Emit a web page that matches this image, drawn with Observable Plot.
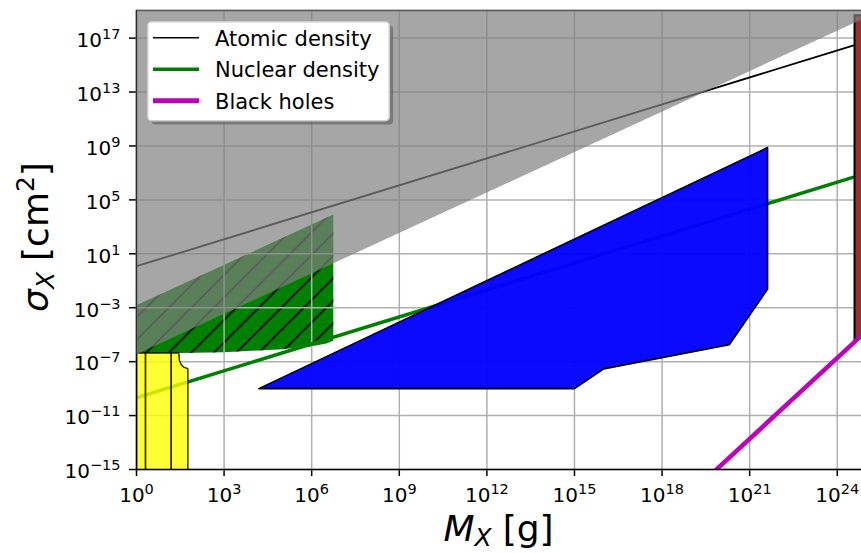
<!DOCTYPE html>
<html>
<head>
<meta charset="utf-8">
<script src="https://cdn.jsdelivr.net/npm/d3@7"></script>
<script src="https://cdn.jsdelivr.net/npm/@observablehq/plot@0.6"></script>
<style>
  html, body { margin: 0; padding: 0; background: #ffffff; }
  #chart svg { display: block; }
</style>
</head>
<body>
<div id="chart"></div>
<script>
// ---- axis ticks and domains ----
const massTicks  = [1e0, 1e3, 1e6, 1e9, 1e12, 1e15, 1e18, 1e21, 1e24];
const sigmaTicks = [1e-15, 1e-11, 1e-7, 1e-3, 1e1, 1e5, 1e9, 1e13, 1e17];
const massDomain  = [1, 6.76e24];
const sigmaDomain = [1e-15, 1.12e19];

// ---- lines ----
const atomicM    = [1, 3.9e24];
const atomicS    = [1.2, 3.0e16];
const nuclearM   = [1, 3.9e24];
const nuclearS   = [2.1e-10, 5.1e6];
const blackHoleM = [3e19, 1e25];
const blackHoleS = [1.7e-16, 1.9e-5];

// ---- regions ----
const grayM  = [1, 1e26, 1e26, 1];
const grayS  = [3.6e-7, 3.6e19, 1e30, 1e30];

const hatchM = [1, 5.5e6, 5.5e6, 3.2e6, 1e6, 1e5, 1e3, 1];
const hatchS = [1.5e-3, 8.3e3, 3.5e-6, 2.2e-6, 1.4e-6, 8.3e-7, 5.0e-7, 3.8e-7];

const yellowPart = ["a","a","a","a", "b","b","b","b", "c","c","c","c","c","c","c","c"];
const yellowM = [1, 1, 2.04, 2.04,   2.04, 2.04, 15.5, 15.5,   15.5, 15.5, 28.2, 29.5, 33.9, 41.7, 57.5, 57.5];
const yellowS = [1e-16, 4.3e-7, 4.3e-7, 1e-16,   1e-16, 4.3e-7, 4.3e-7, 1e-16,
                 1e-16, 4.3e-7, 4.3e-7, 1.23e-7, 6.2e-8, 3.9e-8, 2.95e-8, 1e-16];

const blueM = [1.55e4, 1e15, 1e16, 2.0e20, 4.1e21, 4.1e21];
const blueS = [1e-9, 1e-9, 2.9e-8, 1.8e-6, 2.4e-2, 7.6e8];

const redM = [3.9e24, 3.9e24, 1e26, 1e26];
const redS = [2.9e-6, 5e18, 5e18, 1.9e-3];

// ---- legend ----
const legendLabels = ["Atomic density", "Nuclear density", "Black holes"];
const legendColors = ["#000000", "#008000", "#bf00bf"];
const legendWidths = [1.5, 3.5, 5];

const pts = (M, S, P) => M.map((m, i) => ({m, s: S[i], p: P ? P[i] : 0}));
const expFmt = d => { const e = Math.round(Math.log10(d)); return (e < 0 ? "\u2212" : "") + Math.abs(e); };

const chart = Plot.plot({
  width: 861,
  height: 553,
  marginLeft: 136,
  marginRight: 0,
  marginTop: 10,
  marginBottom: 84,
  style: {fontFamily: "DejaVu Sans, sans-serif", fontSize: "20px", background: "#ffffff", color: "#000000", overflow: "visible"},
  x: {type: "log", domain: massDomain, ticks: massTicks, tickFormat: expFmt, tickSize: 7, tickPadding: 11, label: null},
  y: {type: "log", domain: sigmaDomain, ticks: sigmaTicks, tickFormat: expFmt, tickSize: 7, tickPadding: 9, label: null},
  marks: [
    // hatched nuclear-density region
    Plot.line(pts(hatchM, hatchS), {x: "m", y: "s", fill: "#008000", stroke: "none", curve: "linear-closed", clip: true}),
    Plot.line(pts(hatchM, hatchS), {x: "m", y: "s", fill: "url(#hatch)", stroke: "none", curve: "linear-closed", clip: true}),
    // grid
    Plot.ruleX(massTicks, {stroke: "#b0b0b0", strokeWidth: 1.5}),
    Plot.ruleY(sigmaTicks, {stroke: "#b0b0b0", strokeWidth: 1.5}),
    // density lines
    Plot.line(pts(atomicM, atomicS), {x: "m", y: "s", stroke: "#000000", strokeWidth: 1.8, clip: true}),
    Plot.line(pts(nuclearM, nuclearS), {x: "m", y: "s", stroke: "#008000", strokeWidth: 3.5, clip: true}),
    // yellow region
    Plot.line(pts(yellowM, yellowS, yellowPart), {x: "m", y: "s", z: "p", fill: "#ffff00", fillOpacity: 0.8,
      stroke: "#000000", strokeOpacity: 0.8, strokeWidth: 1.5, curve: "linear-closed", clip: true}),
    // blue region
    Plot.line(pts(blueM, blueS), {x: "m", y: "s", fill: "#0000ff", fillOpacity: 0.96,
      stroke: "#000000", strokeWidth: 1.6, curve: "linear-closed", clip: true}),
    // red region
    Plot.line(pts(redM, redS), {x: "m", y: "s", fill: "#a52a2a", stroke: "#000000", strokeWidth: 2,
      curve: "linear-closed", clip: true}),
    // black holes
    Plot.line(pts(blackHoleM, blackHoleS), {x: "m", y: "s", stroke: "#bf00bf", strokeWidth: 4.5, clip: true}),
    // spines
    Plot.ruleX([massDomain[0]], {stroke: "#000000", strokeWidth: 1.5}),
    Plot.ruleY([sigmaDomain[0]], {stroke: "#000000", strokeWidth: 1.5}),
    Plot.ruleY([sigmaDomain[1]], {stroke: "#000000", strokeWidth: 1.5}),
    // gray region on top
    Plot.line(pts(grayM, grayS), {x: "m", y: "s", fill: "#808080", fillOpacity: 0.7, stroke: "none",
      curve: "linear-closed", clip: true})
  ]
});

document.getElementById("chart").appendChild(chart);
const svg = d3.select(chart);

// hatch pattern
svg.insert("defs", ":first-child").html(
  '<pattern id="hatch" patternUnits="userSpaceOnUse" width="22.5" height="22.5" x="3" y="0">' +
  '<path d="M-2,24.5 L24.5,-2 M-5,5 L5,-5 M17.5,27.5 L27.5,17.5" stroke="#000000" stroke-width="1.6" fill="none"/>' +
  '</pattern>');

// tick labels with superscripts
svg.selectAll('[aria-label^="x-axis"], [aria-label^="y-axis"]').attr("font-size", "20px").attr("stroke-width", 1.5);
svg.selectAll('[aria-label^="x-axis"] text, [aria-label^="y-axis"] text').each(function () {
  const exp = this.textContent;
  const t = d3.select(this);
  t.attr("font-size", "20px");
  t.text("10");
  t.append("tspan").attr("dy", "-0.55em").attr("font-size", "14.5px").text(exp);
});
svg.selectAll('[aria-label^="y-axis"] text').each(function () {
  if (this.hasAttribute("y") && String(this.getAttribute("y")).includes("em")) this.setAttribute("y", "0.44em");
  else if (this.hasAttribute("dy")) this.setAttribute("dy", "0.44em");
});

// axis titles
const xl = svg.append("text").attr("x", 498.5).attr("y", 541).attr("text-anchor", "middle")
  .attr("font-size", 36).attr("fill", "#000");
xl.append("tspan").attr("font-style", "italic").text("M");
xl.append("tspan").attr("font-style", "italic").attr("font-size", 25).attr("dy", 5).text("X");
xl.append("tspan").attr("dy", -5).attr("dx", 11).text("[g]");

const yl = svg.append("text").attr("transform", "translate(48,237) rotate(-90)").attr("text-anchor", "middle")
  .attr("font-size", 36).attr("fill", "#000");
yl.append("tspan").attr("font-style", "italic").text("σ");
yl.append("tspan").attr("font-style", "italic").attr("font-size", 25).attr("dy", 6).text("X");
yl.append("tspan").attr("dy", -6).attr("dx", 11).text("[cm");
yl.append("tspan").attr("font-size", 25).attr("dy", -14).text("2");
yl.append("tspan").attr("dy", 14).text("]");

// legend
const lg = svg.append("g").attr("text-anchor", "start");
lg.append("rect").attr("x", 151.5).attr("y", 25.5).attr("width", 241.6).attr("height", 99).attr("rx", 4)
  .attr("fill", "rgb(77,77,77)").attr("fill-opacity", 0.5);
lg.append("rect").attr("x", 147.7).attr("y", 21.7).attr("width", 241.6).attr("height", 99).attr("rx", 4)
  .attr("fill", "#ffffff").attr("stroke", "#cccccc").attr("stroke-width", 1.5);
legendLabels.forEach((lab, i) => {
  const cy = 37.7 + i * 31.5;
  lg.append("line").attr("x1", 153).attr("x2", 199).attr("y1", cy).attr("y2", cy)
    .attr("stroke", legendColors[i]).attr("stroke-width", legendWidths[i]);
  lg.append("text").attr("x", 215).attr("y", cy + 8).attr("font-size", 21).attr("text-anchor", "start")
    .attr("fill", "#000").text(lab);
});
</script>
</body>
</html>
